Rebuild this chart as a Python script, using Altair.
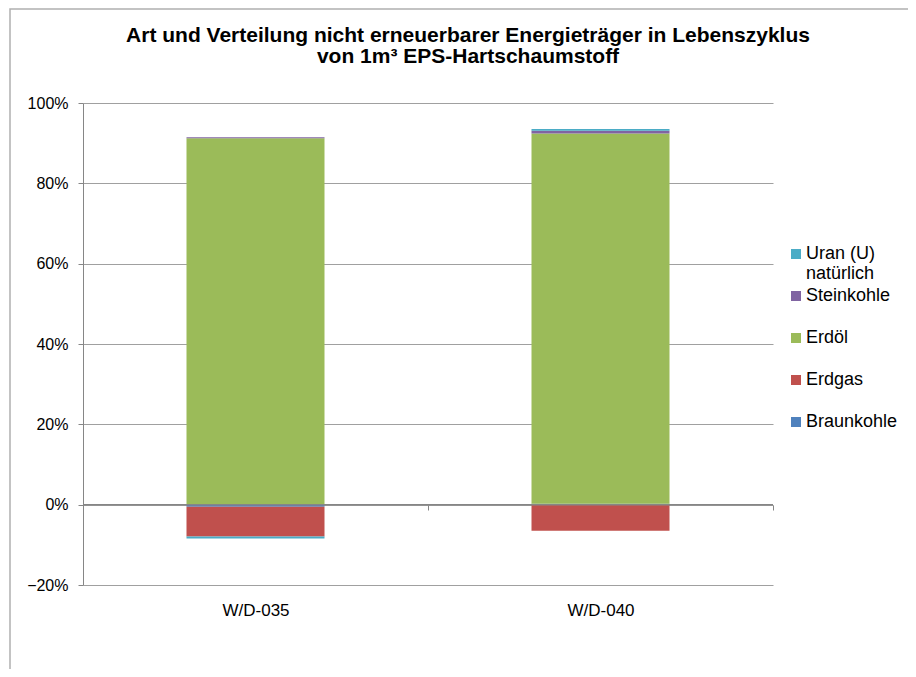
import altair as alt
import pandas as pd

categories = ["W/D-035", "W/D-040"]
carriers = ["Braunkohle", "Erdgas", "Erdöl", "Steinkohle", "Uran (U) natürlich"]
braunkohle = [-0.005, 0.002]
erdgas = [-0.074, -0.065]
erdoel = [0.912, 0.922]
steinkohle = [0.003, 0.007]
uran = [-0.005, 0.004]
colors = ["#4F81BD", "#C0504D", "#9BBB59", "#8064A2", "#4BACC6"]
y_ticks = [-0.2, 0.0, 0.2, 0.4, 0.6, 0.8, 1.0]

series = [braunkohle, erdgas, erdoel, steinkohle, uran]
rows = []
for i, (name, vals) in enumerate(zip(carriers, series)):
    for cat, v in zip(categories, vals):
        rows.append({"Kategorie": cat, "Energieträger": name, "Anteil": v, "idx": i})
df = pd.DataFrame(rows)

FONT = "Liberation Sans"
legend_order = list(reversed(carriers))
legend_colors = list(reversed(colors))

frame = alt.Chart(alt.Data(values=[{}])).mark_rect(
    filled=False, stroke="#b0b0b0", strokeWidth=1.5
).encode(
    x=alt.value(-73), x2=alt.value(900), y=alt.value(-94), y2=alt.value(700)
)

bars = alt.Chart(df).mark_bar().encode(
    x=alt.X(
        "Kategorie:N",
        sort=categories,
        title=None,
        scale=alt.Scale(paddingInner=0.6, paddingOuter=0.3),
        axis=alt.Axis(
            orient="bottom", offset=-80, domain=False, ticks=True, tickOffset=172.5,
            labelOffset=-172.5,
            tickSize=5, tickColor="#868686", labelAngle=0, labelFont=FONT,
            labelFontSize=17, labelColor="#000000", labelPadding=92,
        ),
    ),
    y=alt.Y(
        "Anteil:Q",
        stack="zero",
        title=None,
        scale=alt.Scale(domain=[-0.2, 1.0], nice=False),
        axis=alt.Axis(
            values=y_ticks, format=".0%", domain=True, domainColor="#868686",
            tickColor="#868686", tickSize=5, grid=True, gridColor="#a0a0a0",
            labelFont=FONT, labelFontSize=16, labelColor="#000000", labelPadding=10,
        ),
    ),
    color=alt.Color(
        "Energieträger:N",
        scale=alt.Scale(domain=legend_order, range=legend_colors),
        legend=alt.Legend(
            title=None, orient="none", legendX=704, legendY=142,
            symbolType="square", symbolSize=100, symbolStrokeWidth=0,
            labelFont=FONT, labelFontSize=18, labelColor="#000000",
            rowPadding=4, labelOffset=1,
            labelExpr="datum.label == 'Uran (U) natürlich' ? ['Uran (U)', 'natürlich'] : [datum.label, '']",
        ),
    ),
    order=alt.Order("idx:Q", sort="ascending"),
)

zero = alt.Chart(alt.Data(values=[{"z": 0}])).mark_rule(
    color="#868686", strokeWidth=1.5
).encode(y="z:Q")

chart = alt.layer(frame, bars, zero).properties(
    width=690,
    height=482,
    padding={"left": 75, "top": 95, "right": 135, "bottom": 84},
    autosize=alt.AutoSizeParams(type="none"),
    title=alt.TitleParams(
        ["Art und Verteilung nicht erneuerbarer Energieträger in Lebenszyklus",
         "von 1m³ EPS-Hartschaumstoff"],
        font=FONT, fontSize=21, fontWeight="bold", color="#000000",
        anchor="middle", frame="group", dx=40, offset=-59, lineHeight=21,
    ),
).configure_view(stroke=None)

chart.save("out.html", embed_options={"renderer": "svg", "actions": False})
